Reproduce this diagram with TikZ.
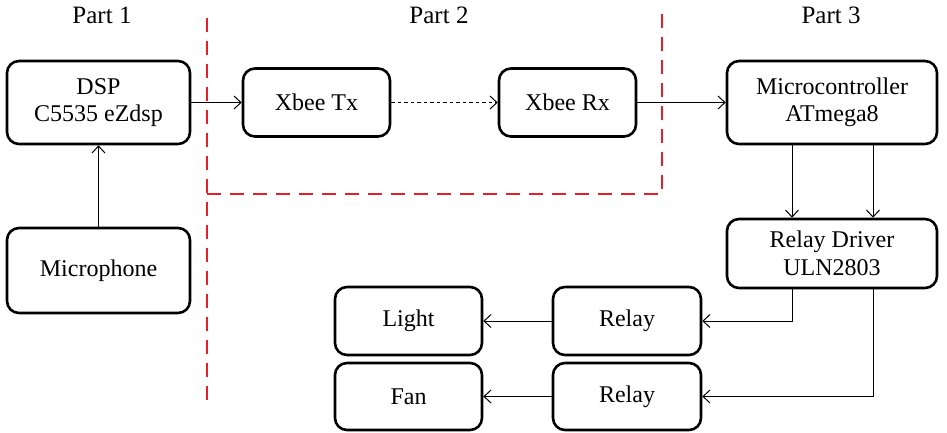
\documentclass[tikz,border=0pt]{standalone}
\usepackage{fontspec}
\setmainfont{Liberation Serif}
\usetikzlibrary{arrows.meta}
\definecolor{dashred}{RGB}{230,30,40}
\begin{document}
\begin{tikzpicture}[x=1pt,y=-1pt,
  box/.style={draw, line width=2.6pt, rounded corners=12pt, align=center,
    font=\fontsize{24}{27.5}\selectfont, inner sep=0pt},
  conn/.style={line width=1pt, -{Straight Barb[length=7pt,width=13pt]}},
  partlabel/.style={font=\fontsize{25}{30}\selectfont, inner sep=0pt},
  sepline/.style={draw=dashred, line width=2pt, dash pattern=on 14pt off 9pt}]
\useasboundingbox (0,0) rectangle (947,432);

\node[partlabel] (p1) at (102,15) {Part 1};
\node[partlabel] (p2) at (439,15) {Part 2};
\node[partlabel] (p3) at (831,15) {Part 3};

\node[box, minimum width=183pt, minimum height=83pt] (dsp) at (98.5,102.5) {DSP\\C5535 eZdsp};
\node[box, minimum width=183pt, minimum height=85pt] (mic) at (98.5,270.5) {Microphone};
\node[box, minimum width=147pt, minimum height=68pt] (tx) at (316.5,102.5) {Xbee Tx};
\node[box, minimum width=137pt, minimum height=68pt] (rx) at (567.5,102.5) {Xbee Rx};
\node[box, minimum width=210pt, minimum height=83pt] (mcu) at (832,102.5) {Microcontroller\\ATmega8};
\node[box, minimum width=210pt, minimum height=69pt] (drv) at (832,253.5) {Relay Driver\\ULN2803};
\node[box, minimum width=148pt, minimum height=68pt] (r1) at (627,321) {Relay};
\node[box, minimum width=148pt, minimum height=67pt] (r2) at (627,396.5) {Relay};
\node[box, minimum width=147pt, minimum height=68pt] (light) at (408.5,321) {Light};
\node[box, minimum width=147pt, minimum height=67pt] (fan) at (408.5,396.5) {Fan};

\draw[sepline] (207,18) -- (207,403);
\draw[sepline] (207,194) -- (662,194) -- (662,10);

\draw[conn] (mic.north) -- (dsp.south);
\draw[conn] (dsp.east) -- (tx.west);
\draw[conn, dash pattern=on 3.5pt off 3pt] (tx.east) -- (rx.west);
\draw[conn] (rx.east) -- (mcu.west);
\draw[conn] ([xshift=-40pt]mcu.south) -- ([xshift=-40pt]drv.north);
\draw[conn] ([xshift=41pt]mcu.south) -- ([xshift=41pt]drv.north);
\draw[conn] ([xshift=-40pt]drv.south) |- (r1.east);
\draw[conn] ([xshift=41pt]drv.south) |- (r2.east);
\draw[conn] (r1.west) -- (light.east);
\draw[conn] (r2.west) -- (fan.east);
\end{tikzpicture}
\end{document}
